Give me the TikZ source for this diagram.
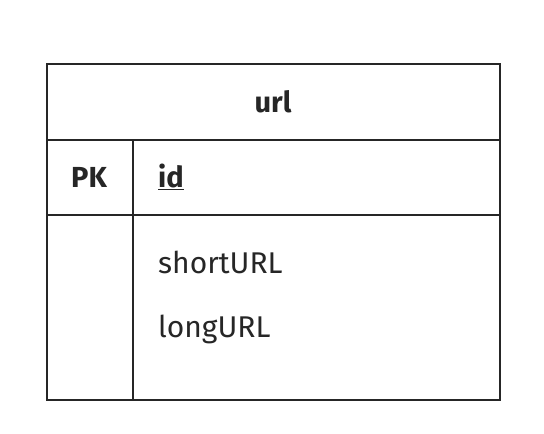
\documentclass[tikz,border=0pt]{standalone}
\usepackage{fontspec}
\setmainfont{Fira Sans}
\begin{document}
\begin{tikzpicture}[x=1pt,y=-1pt,
  frame/.style={draw=black!85,line width=1.4pt},
  txt/.style={inner sep=0pt,font=\fontsize{30}{36}\selectfont,text=black!85},
  bold/.style={txt,font=\fontsize{29}{36}\selectfont\bfseries}]
\useasboundingbox (0,0) rectangle (544,434);
\coordinate (tl) at (47,64);
\coordinate (br) at (500,400);
\draw[frame] (tl) rectangle (br);
\coordinate (h1l) at (47,140); \coordinate (h1r) at (500,140);
\coordinate (h2l) at (47,215); \coordinate (h2r) at (500,215);
\coordinate (vt) at (133,140); \coordinate (vb) at (133,400);
\draw[frame] (h1l) -- (h1r);
\draw[frame] (h2l) -- (h2r);
\draw[frame] (vt) -- (vb);
\node[bold,anchor=base] (title) at (273,112) {url};
\node[bold,anchor=base] (pk) at (89,187) {PK};
\node[bold,anchor=base west] (id) at (158,187) {\underline{id}};
\node[txt,anchor=base west] (short) at (158,273) {shortURL};
\node[txt,anchor=base west] (long) at (158,337) {longURL};
\end{tikzpicture}
\end{document}
